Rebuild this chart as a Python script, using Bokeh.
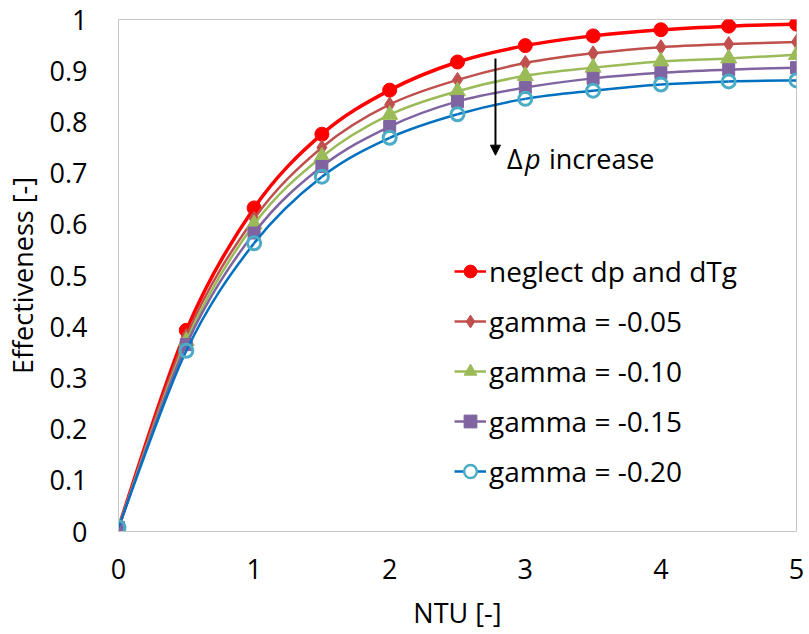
from bokeh.plotting import figure
from bokeh.models import (Range1d, FixedTicker, CustomJSTickFormatter, Legend, LegendItem,
                          ColumnDataSource, Arrow, NormalHead)
from bokeh.core.properties import value
from bokeh.embed import file_html
from bokeh.resources import INLINE

# ---- data ----
ntu = [0, 0.5, 1, 1.5, 2, 2.5, 3, 3.5, 4, 4.5, 5]
neglect = [0.008, 0.393, 0.632, 0.776, 0.862, 0.917, 0.949, 0.968, 0.980, 0.987, 0.991]
gamma_05 = [0.008, 0.382, 0.611, 0.750, 0.834, 0.882, 0.915, 0.934, 0.946, 0.952, 0.956]
gamma_10 = [0.008, 0.372, 0.600, 0.732, 0.814, 0.860, 0.890, 0.906, 0.918, 0.924, 0.931]
gamma_15 = [0.008, 0.365, 0.583, 0.713, 0.791, 0.840, 0.867, 0.885, 0.896, 0.902, 0.906]
gamma_20 = [0.008, 0.353, 0.563, 0.693, 0.769, 0.815, 0.845, 0.861, 0.873, 0.879, 0.881]
labels = ["neglect dp and dTg", "gamma = -0.05", "gamma = -0.10", "gamma = -0.15", "gamma = -0.20"]
x_ticks = [0, 1, 2, 3, 4, 5]
y_ticks = [0, 0.1, 0.2, 0.3, 0.4, 0.5, 0.6, 0.7, 0.8, 0.9, 1.0]

FONT = "Open Sans"
NAN = float("nan")

p = figure(width=809, height=634, output_backend="svg", toolbar_location=None,
           x_range=Range1d(0, 5), y_range=Range1d(0, 1),
           min_border_left=117, min_border_right=13, min_border_top=19, min_border_bottom=103)
p.background_fill_color = "white"
p.border_fill_color = "white"
p.outline_line_color = "#C6C6C6"
p.outline_line_width = 1
p.grid.visible = False

for ax in (p.xaxis[0], p.yaxis[0]):
    ax.axis_line_color = "#C6C6C6"
    ax.major_tick_line_color = None
    ax.minor_tick_line_color = None
    ax.major_tick_out = 0
    ax.major_tick_in = 0
    ax.major_label_text_font = FONT
    ax.major_label_text_font_size = "27px"
    ax.major_label_text_color = "black"
    ax.axis_label_text_font = FONT
    ax.axis_label_text_font_size = "27px"
    ax.axis_label_text_font_style = "normal"
    ax.axis_label_text_color = "black"

p.xaxis.ticker = FixedTicker(ticks=x_ticks)
p.yaxis.ticker = FixedTicker(ticks=y_ticks)
fmt = CustomJSTickFormatter(code="return String(Math.round(tick*10)/10)")
p.xaxis.formatter = fmt
p.yaxis.formatter = fmt
p.xaxis.major_label_standoff = 27
p.yaxis.major_label_standoff = 31
p.xaxis.axis_label = "NTU [-]"
p.yaxis.axis_label = "Effectiveness [-]"
p.xaxis.axis_label_standoff = 12
p.yaxis.axis_label_standoff = 6


def bezier_source(xs, ys):
    n = len(xs)
    X = [xs[0]] + list(xs) + [xs[-1]]
    Y = [ys[0]] + list(ys) + [ys[-1]]
    d = dict(x0=[], y0=[], x1=[], y1=[], cx0=[], cy0=[], cx1=[], cy1=[])
    for i in range(1, n):
        d["x0"].append(X[i]); d["y0"].append(Y[i])
        d["x1"].append(X[i + 1]); d["y1"].append(Y[i + 1])
        d["cx0"].append(X[i] + (X[i + 1] - X[i - 1]) / 6)
        d["cy0"].append(Y[i] + (Y[i + 1] - Y[i - 1]) / 6)
        d["cx1"].append(X[i + 1] - (X[i + 2] - X[i]) / 6)
        d["cy1"].append(Y[i + 1] - (Y[i + 2] - Y[i]) / 6)
    return ColumnDataSource(d)


series = [neglect, gamma_05, gamma_10, gamma_15, gamma_20]
line_colors = ["#FF0000", "#C0504D", "#9BBB59", "#8064A2", "#0070C0"]
mark_colors = ["#FF0000", "#C0504D", "#9BBB59", "#8064A2", "#4BACC6"]
markers = ["circle", "diamond", "triangle", "square", "circle"]
sizes = [14, 15, 16, 12, 13]
line_widths = [3.5, 2.5, 2.5, 2.5, 2.5]
leg_sizes = [11, 12, 13, 10, 11]

items = []
for vals, lc, mc, mk, sz, lw, lsz, lab in zip(series, line_colors, mark_colors, markers,
                                               sizes, line_widths, leg_sizes, labels):
    hollow = lab == labels[-1]
    p.bezier(x0="x0", y0="y0", x1="x1", y1="y1", cx0="cx0", cy0="cy0", cx1="cx1", cy1="cy1",
             source=bezier_source(ntu, vals), line_color=lc, line_width=lw)
    if hollow:
        p.scatter(ntu, vals, marker=mk, size=sz, line_color=mc, line_width=3, fill_color=None)
    else:
        p.scatter(ntu, vals, marker=mk, size=sz, line_color=mc, fill_color=mc)
    # legend proxies (NaN data: not drawn in the plot)
    lr = p.line([NAN], [NAN], line_color=lc, line_width=2.5)
    if hollow:
        sr = p.scatter([NAN], [NAN], marker=mk, size=lsz, line_color=mc, line_width=2.5,
                       fill_color="white")
    else:
        sr = p.scatter([NAN], [NAN], marker=mk, size=lsz, line_color=mc, fill_color=mc)
    items.append(LegendItem(label=lab, renderers=[lr, sr]))

legend = Legend(items=items, location=(336, 41), orientation="vertical",
                label_text_font=FONT, label_text_font_size="28px", label_text_color="black",
                glyph_width=32, glyph_height=34, label_height=34, label_standoff=3,
                spacing=12, padding=0, margin=0,
                border_line_color=None, background_fill_alpha=0)
p.add_layout(legend, "center")

# annotation: delta-p increase
p.add_layout(Arrow(end=NormalHead(size=10, fill_color="black", line_color="black"),
                   x_start=2.78, y_start=0.924, x_end=2.78, y_end=0.735,
                   line_width=2, line_color="black"))
p.text(x=[2.865], y=[0.729], text=["Δ"], text_font=value(FONT), text_font_size="27px",
       text_baseline="middle", text_align="left", text_color="black")
p.text(x=[2.865], y=[0.729], text=["p"], x_offset=18, text_font=value(FONT),
       text_font_size="27px", text_font_style="italic",
       text_baseline="middle", text_align="left", text_color="black")
p.text(x=[2.865], y=[0.729], text=["increase"], x_offset=42, text_font=value(FONT),
       text_font_size="27px", text_baseline="middle", text_align="left", text_color="black")

open("out.html", "w").write(file_html(p, INLINE))
